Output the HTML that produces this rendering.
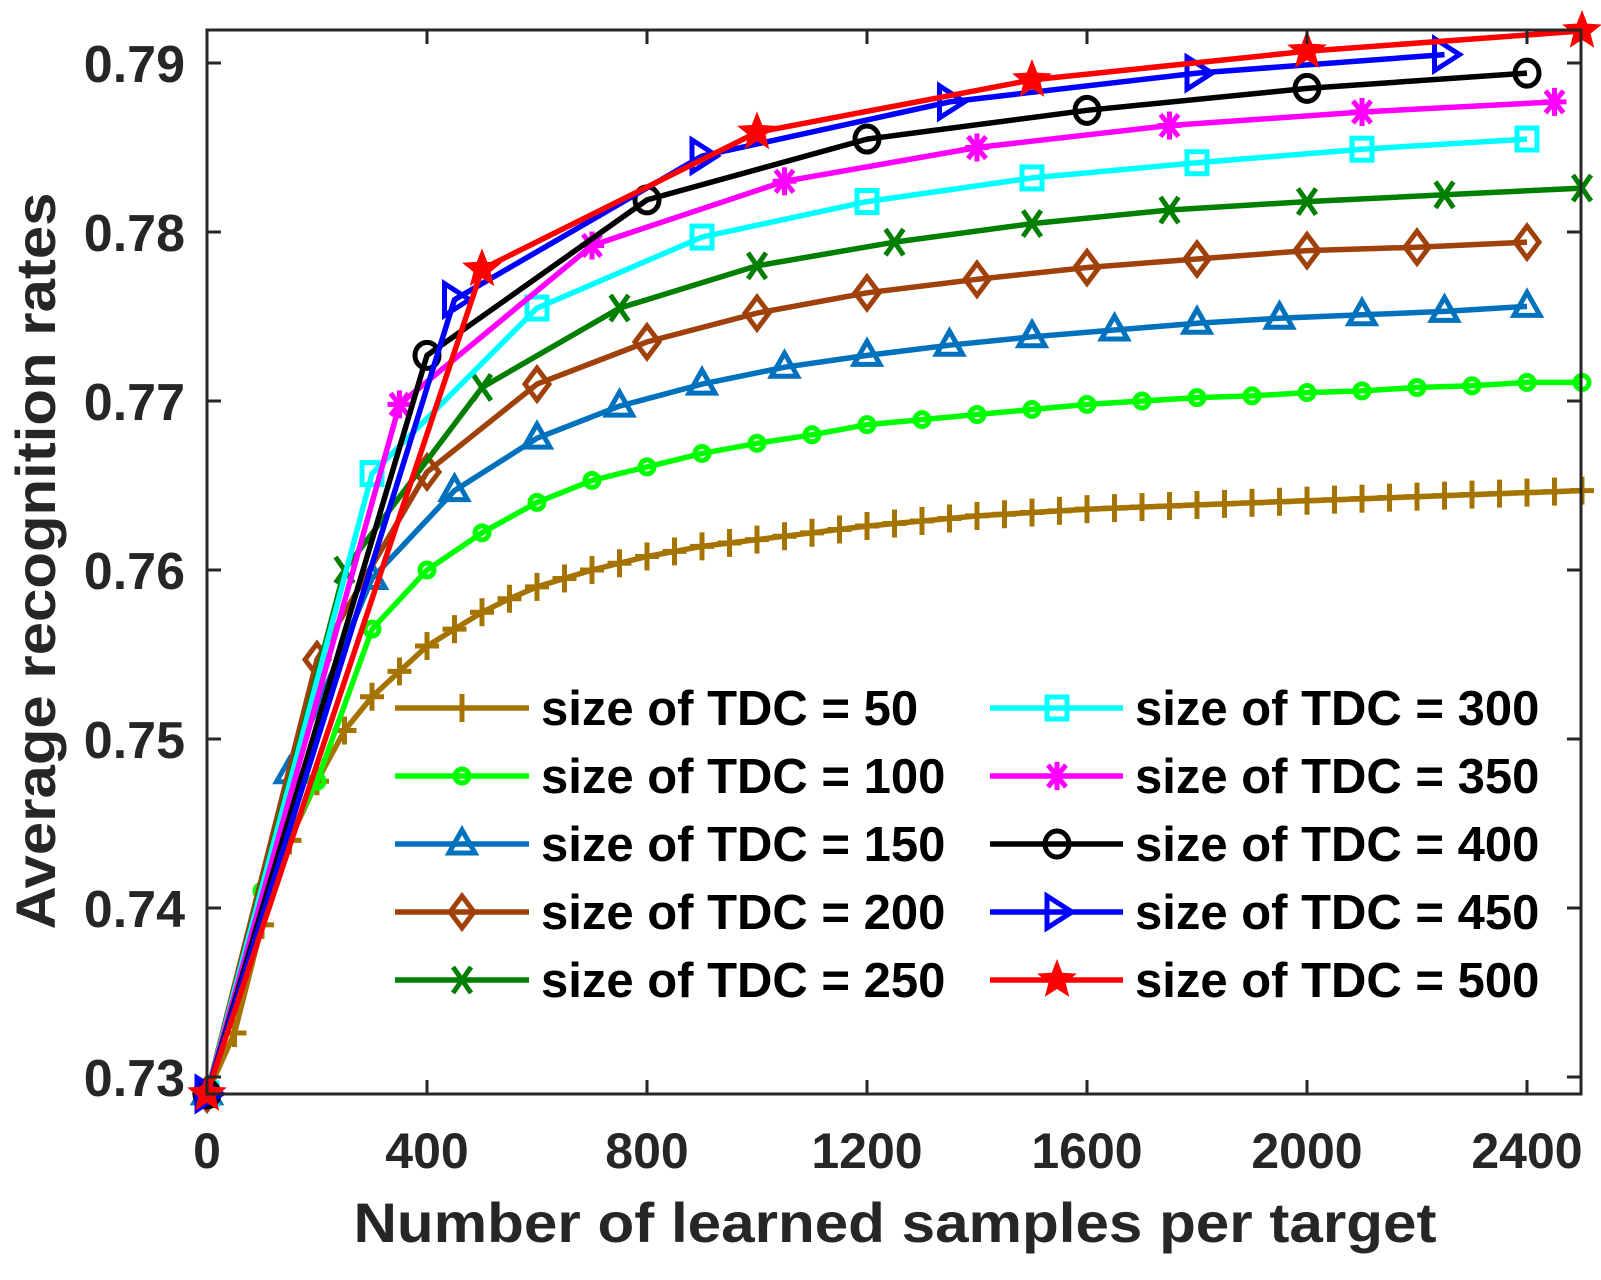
<!DOCTYPE html>
<html><head><meta charset="utf-8"><style>
html,body{margin:0;padding:0;background:#fff;}
svg text{font-family:"Liberation Sans",Arial,sans-serif;font-weight:bold;}
</style></head><body>
<svg id="s" width="1601" height="1275" xmlns="http://www.w3.org/2000/svg">
<rect width="1601" height="1275" fill="#fff"/>
<g id="series"></g>
<g id="axes" stroke="#262626" stroke-width="3" fill="none">
<rect x="207" y="30" width="1374" height="1064"/>
</g>
<g id="ticks" stroke="#262626" stroke-width="3"></g>
<g id="labels" fill="#262626"></g>
<text x="895" y="1242" font-size="56" text-anchor="middle" fill="#262626" textLength="1083" lengthAdjust="spacingAndGlyphs">Number of learned samples per target</text>
<text transform="translate(55,561) rotate(-90)" font-size="56" text-anchor="middle" fill="#262626" textLength="737" lengthAdjust="spacingAndGlyphs">Average recognition rates</text>
<g id="legend"></g>
</svg>
<script>
var NS="http://www.w3.org/2000/svg";
function px(x){return 207+0.55*x;}
function py(v){return 63+(0.79-v)*16900;}
function el(t,a,p){var e=document.createElementNS(NS,t);for(var k in a)e.setAttribute(k,a[k]);p.appendChild(e);return e;}
var ticks=document.getElementById('ticks'),labels=document.getElementById('labels');
for(var x=0;x<=2400;x+=400){var X=px(x);
 el('line',{x1:X,y1:1094,x2:X,y2:1080},ticks);el('line',{x1:X,y1:30,x2:X,y2:44},ticks);
 var t=el('text',{x:X,y:1168,'font-size':50,'text-anchor':'middle'},labels);t.textContent=x;}
for(var i=0;i<=6;i++){var v=0.73+i*0.01,Y=py(v);
 el('line',{x1:207,y1:Y,x2:221,y2:Y},ticks);el('line',{x1:1581,y1:Y,x2:1567,y2:Y},ticks);
 var t=el('text',{x:185,y:Y+19,'font-size':52,'text-anchor':'end'},labels);t.textContent=v.toFixed(2);}

function interp(cp,x){for(var i=0;i<cp.length-1;i++){if(x>=cp[i][0]&&x<=cp[i+1][0]){var a=cp[i],b=cp[i+1];return a[1]+(b[1]-a[1])*(x-a[0])/(b[0]-a[0]);}}return cp[cp.length-1][1];}
var S=[
{c:'#a57400',m:'plus',step:50,max:2500,cp:[[0,.729],[50,.7326],[100,.739],[150,.744],[200,.7475],[250,.7505],[300,.7525],[350,.754],[400,.7555],[450,.7565],[500,.7575],[550,.7583],[600,.759],[700,.760],[800,.7608],[900,.7614],[1000,.7618],[1200,.7626],[1400,.7632],[1600,.7636],[2000,.7641],[2500,.7647]]},
{c:'#00ff00',m:'sc',step:100,max:2500,cp:[[0,.729],[100,.741],[200,.7475],[300,.7565],[400,.760],[500,.7622],[600,.764],[700,.7653],[800,.7661],[900,.7669],[1000,.7675],[1100,.768],[1200,.7686],[1300,.7689],[1400,.7692],[1500,.7695],[1600,.7698],[1700,.770],[1800,.7702],[1900,.7703],[2000,.7705],[2100,.7706],[2200,.7708],[2300,.7709],[2400,.7711],[2500,.7711]]},
{c:'#0072bd',m:'tri',step:150,max:2400,cp:[[0,.729],[150,.748],[300,.7595],[450,.7647],[600,.7678],[750,.7697],[900,.771],[1050,.772],[1200,.7727],[1350,.7733],[1500,.7738],[1650,.7742],[1800,.7746],[1950,.7749],[2100,.7751],[2250,.7753],[2400,.7756]]},
{c:'#a0400a',m:'dia',step:200,max:2400,cp:[[0,.729],[200,.7547],[400,.7658],[600,.771],[800,.7735],[1000,.7752],[1200,.7764],[1400,.7772],[1600,.7779],[1800,.7784],[2000,.7789],[2200,.7791],[2400,.7794]]},
{c:'#007f00',m:'x',step:250,max:2500,cp:[[0,.729],[250,.760],[500,.7708],[750,.7755],[1000,.778],[1250,.7794],[1500,.7805],[1750,.7813],[2000,.7818],[2250,.7822],[2500,.7826]]},
{c:'#00ffff',m:'sq',step:300,max:2400,cp:[[0,.729],[300,.7657],[600,.7755],[900,.7797],[1200,.7818],[1500,.7832],[1800,.7841],[2100,.7849],[2400,.7855]]},
{c:'#ff00ff',m:'ast',step:350,max:2450,cp:[[0,.729],[350,.7698],[700,.7792],[1050,.783],[1400,.785],[1750,.7863],[2100,.7871],[2450,.7877]]},
{c:'#000000',m:'circ',step:400,max:2400,cp:[[0,.729],[400,.7727],[800,.7819],[1200,.7855],[1600,.7872],[2000,.7885],[2400,.7894]]},
{c:'#0000ff',m:'rt',step:450,max:2250,cp:[[0,.729],[450,.776],[900,.7845],[1350,.7877],[1800,.7894],[2250,.7905]]},
{c:'#ff0000',m:'star',step:500,max:2500,cp:[[0,.729],[500,.7778],[1000,.7859],[1500,.789],[2000,.7907],[2500,.7919]]}
];
function marker(m,X,Y,c,g){
 var sw=5,a={stroke:c,'stroke-width':sw,fill:'none'};
 function L(x1,y1,x2,y2){var o=Object.assign({x1:x1,y1:y1,x2:x2,y2:y2},a);el('line',o,g);}
 function P(pts,fill){var o=Object.assign({points:pts},a);if(fill)o.fill=c;el('polygon',o,g);}
 switch(m){
 case 'plus':L(X-12,Y,X+12,Y);L(X,Y-14,X,Y+14);break;
 case 'sc':el('circle',Object.assign({cx:X,cy:Y,r:7},a),g);break;
 case 'tri':P((X)+','+(Y-14)+' '+(X+13)+','+(Y+9)+' '+(X-13)+','+(Y+9));break;
 case 'dia':P(X+','+(Y-16)+' '+(X+12)+','+Y+' '+X+','+(Y+16)+' '+(X-12)+','+Y);break;
 case 'x':L(X-9,Y-13,X+9,Y+13);L(X-9,Y+13,X+9,Y-13);break;
 case 'sq':el('rect',Object.assign({x:X-10,y:Y-11,width:20,height:22},a),g);break;
 case 'ast':L(X-12,Y,X+12,Y);L(X,Y-14,X,Y+14);L(X-9,Y-11,X+9,Y+11);L(X-9,Y+11,X+9,Y-11);break;
 case 'circ':el('ellipse',Object.assign({cx:X,cy:Y,rx:12,ry:13},a),g);break;
 case 'rt':P((X-10)+','+(Y-16)+' '+(X+15)+','+Y+' '+(X-10)+','+(Y+16));break;
 case 'star':var p=[];for(var k=0;k<10;k++){var r=k%2?6:14,an=-Math.PI/2+k*Math.PI/5;p.push((X+r*Math.cos(an)).toFixed(1)+','+(Y+r*Math.sin(an)).toFixed(1));}P(p.join(' '),true);break;
 }
}
var sg=document.getElementById('series');
S.forEach(function(s){
 var g=el('g',{},sg),pts=[];
 for(var x=0;x<=s.max+0.1;x+=s.step)pts.push([px(x),py(interp(s.cp,x))]);
 el('polyline',{points:pts.map(function(p){return p[0].toFixed(1)+','+p[1].toFixed(1)}).join(' '),stroke:s.c,'stroke-width':5.5,fill:'none','stroke-linejoin':'round'},g);
 pts.forEach(function(p){marker(s.m,p[0],p[1],s.c,g);});
});
var lg=document.getElementById('legend');
var rows=[708,776,844,912,980];
S.forEach(function(s,i){
 var col=i<5?0:1,Y=rows[i%5];
 var x1=col?990:395,x2=col?1123:529,mx=col?1057:462,tx=col?1135:541;
 el('line',{x1:x1,y1:Y,x2:x2,y2:Y,stroke:s.c,'stroke-width':5.5},lg);
 marker(s.m,mx,Y,s.c,lg);
 var t=el('text',{x:tx,y:Y+17,'font-size':49,fill:'#000'},lg);t.textContent='size of TDC = '+(i+1)*50;
});
</script>
</body></html>
